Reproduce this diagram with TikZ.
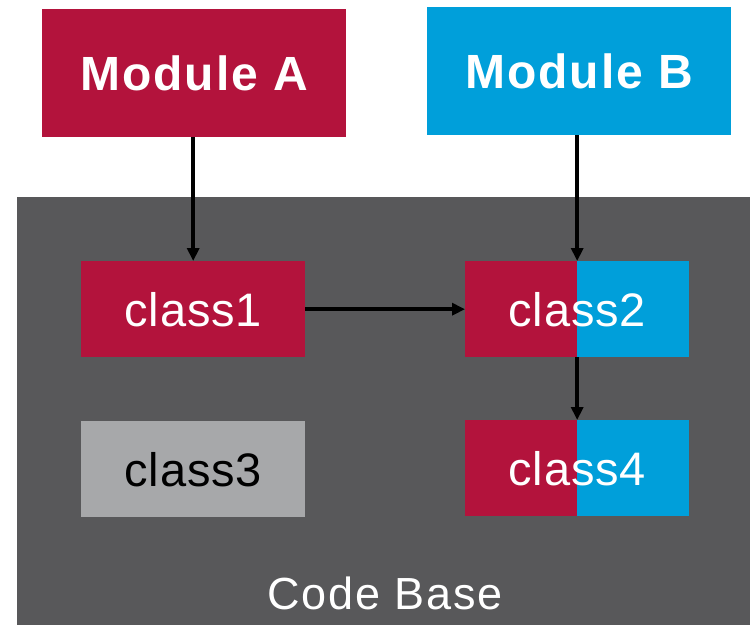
\documentclass[tikz,border=0pt]{standalone}
\usepackage{fontspec}
\setmainfont{Liberation Sans}
\newfontfamily\spaced[LetterSpace=4]{Liberation Sans}
\newfontfamily\spacedb[LetterSpace=2]{Liberation Sans}
\usetikzlibrary{arrows.meta}
\definecolor{crim}{HTML}{B3133C}
\definecolor{sky}{HTML}{009FDA}
\definecolor{dgray}{HTML}{58585A}
\definecolor{lgray}{HTML}{A7A8AA}
\tikzset{
  box/.style={rectangle, inner sep=0pt, anchor=north west},
  modbox/.style={box, minimum width=304pt, minimum height=128pt, text=white, font=\spaced\fontsize{48}{50}\selectfont\bfseries},
  clsbox/.style={box, minimum width=224pt, minimum height=96pt, font=\spacedb\fontsize{47}{50}\selectfont},
  split/.style={clsbox, fill=crim, text=white, path picture={\fill[sky] (path picture bounding box.north) rectangle (path picture bounding box.south east);}},
  conn/.style={line width=3.5pt, -{Triangle[length=13pt,width=12pt]}}
}
\begin{document}
\begin{tikzpicture}[x=1pt,y=-1pt]
\useasboundingbox (0,0) rectangle (750,625);
\fill[dgray] (17,197) rectangle (750,625);
\node[modbox, fill=crim] (mA) at (42,9) {Module A};
\node[modbox, fill=sky] (mB) at (427,7) {Module B};
\node[clsbox, fill=crim, text=white] (c1) at (81,261) {class1};
\node[split] (c2) at (465,261) {class2};
\node[clsbox, fill=lgray, text=black] (c3) at (81,421) {class3};
\node[split] (c4) at (465,420) {class4};
\node[text=white, font=\spaced\fontsize{45}{50}\selectfont] (cb) at (385,593) {Code Base};
\draw[conn] (mA.south -| c1.north) -- (c1.north);
\draw[conn] (mB.south -| c2.north) -- (c2.north);
\draw[conn] (c1.east) -- (c2.west);
\draw[conn] (c2.south) -- (c4.north);
\end{tikzpicture}
\end{document}
